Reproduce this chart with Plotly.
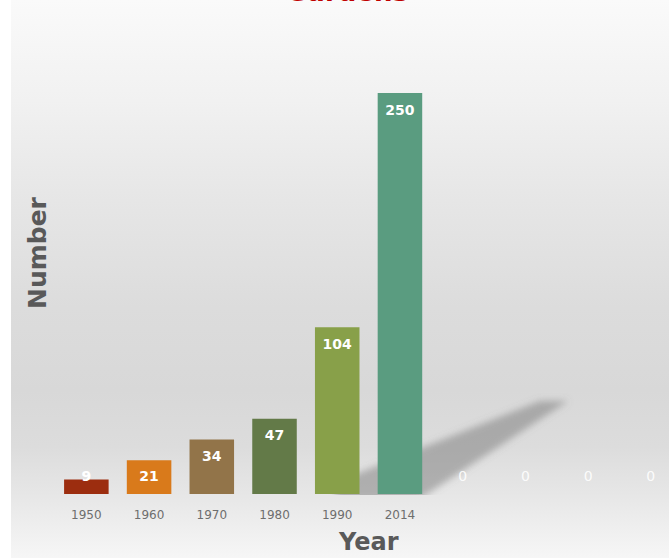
import base64
import plotly.graph_objects as go

# Garden counts by year (last four slots are empty categories)
years = ["1950", "1960", "1970", "1980", "1990", "2014", "", "", "", ""]
counts = [9, 21, 34, 47, 104, 250, 0, 0, 0, 0]
bar_colors = ["#9c2d0f", "#d97a1b", "#927449", "#637a48", "#88a049", "#5a9c80",
              "#5a9c80", "#5a9c80", "#5a9c80", "#5a9c80"]

W_PX, H_PX = 669, 558
M_L, M_R, M_T, M_B = 55, 0, 53, 64
PW = W_PX - M_L - M_R
PH = H_PX - M_T - M_B
Y_MAX = 275
X_RANGE = [-0.5, 9.29]


def px_to_paper(px, py):
    return (px - M_L) / PW, (H_PX - M_B - py) / PH


# Panel background: vertical grey gradient plus a soft floor shadow
svg = f"""<svg xmlns='http://www.w3.org/2000/svg' width='{W_PX}' height='{H_PX}'
 viewBox='0 0 {W_PX} {H_PX}' preserveAspectRatio='none'>
<defs>
<linearGradient id='g' x1='0' y1='0' x2='0' y2='1'>
<stop offset='0' stop-color='#fafafa'/>
<stop offset='0.18' stop-color='#f1f1f1'/>
<stop offset='0.36' stop-color='#e6e6e6'/>
<stop offset='0.55' stop-color='#dcdcdc'/>
<stop offset='0.70' stop-color='#d8d8d8'/>
<stop offset='0.80' stop-color='#dcdcdc'/>
<stop offset='0.89' stop-color='#e7e7e7'/>
<stop offset='1' stop-color='#f6f6f6'/>
</linearGradient>
<filter id='b' x='-20%' y='-20%' width='140%' height='140%'>
<feGaussianBlur stdDeviation='3.5'/>
</filter>
<clipPath id='c'><rect x='0' y='0' width='{W_PX}' height='495'/></clipPath>
</defs>
<rect x='0' y='0' width='{W_PX}' height='{H_PX}' fill='#ffffff'/>
<rect x='11' y='0' width='{W_PX - 11}' height='{H_PX}' fill='url(#g)'/>
<g clip-path='url(#c)'>
<polygon points='336,482 540,401 568,401 418,500 336,500' fill='#737373'
 fill-opacity='0.48' filter='url(#b)'/>
</g>
</svg>"""
src = "data:image/svg+xml;base64," + base64.b64encode(svg.encode()).decode()

x_idx = list(range(len(years)))

fig = go.Figure()
fig.add_trace(go.Bar(
    x=x_idx, y=counts, width=0.71,
    marker=dict(color=bar_colors, line=dict(width=0)),
    hoverinfo="skip",
))

# value labels sit just inside the bar top, never lower than a floor level
label_y = [max(v - 11.2, 10.6) for v in counts]
nz = [i for i, v in enumerate(counts) if v > 0]
zz = [i for i, v in enumerate(counts) if v == 0]
fig.add_trace(go.Scatter(
    x=[x_idx[i] for i in nz], y=[label_y[i] for i in nz],
    text=[str(counts[i]) for i in nz], mode="text",
    textfont=dict(family="DejaVu Sans", size=14, color="#ffffff", weight="bold"),
    hoverinfo="skip",
))
fig.add_trace(go.Scatter(
    x=[x_idx[i] for i in zz], y=[label_y[i] for i in zz],
    text=[str(counts[i]) for i in zz], mode="text",
    textfont=dict(family="DejaVu Sans", size=14, color="rgba(255,255,255,0.9)"),
    hoverinfo="skip",
))

bx, by = px_to_paper(0, 0)
title_x, title_y = px_to_paper(347, 9.3)
ytitle_x, ytitle_y = px_to_paper(37, 253)
xtitle_x, xtitle_y = px_to_paper(368, 542)

fig.update_layout(
    width=W_PX, height=H_PX,
    margin=dict(l=M_L, r=M_R, t=M_T, b=M_B, pad=0),
    paper_bgcolor="#ffffff",
    plot_bgcolor="rgba(0,0,0,0)",
    showlegend=False,
    bargap=0.29,
    images=[dict(
        source=src, xref="paper", yref="paper",
        x=bx, y=by, sizex=W_PX / PW, sizey=H_PX / PH,
        xanchor="left", yanchor="top", sizing="stretch", layer="below",
    )],
    xaxis=dict(
        range=X_RANGE, tickmode="array", tickvals=x_idx, ticktext=years,
        showgrid=False, zeroline=False, showline=False, ticks="",
        tickfont=dict(family="DejaVu Sans", size=12, color="#6e6e6e"),
        ticklabelstandoff=12, fixedrange=True,
    ),
    yaxis=dict(
        range=[0, Y_MAX], showgrid=False, zeroline=False, showline=False,
        showticklabels=False, ticks="", fixedrange=True,
    ),
    annotations=[
        dict(text="<b>Gardens</b>", x=title_x, y=title_y, xref="paper", yref="paper",
             xanchor="center", yanchor="bottom", showarrow=False,
             font=dict(family="DejaVu Sans", size=26, color="#c00000")),
        dict(text="<b>Number</b>", x=ytitle_x, y=ytitle_y, xref="paper", yref="paper",
             xanchor="center", yanchor="middle", textangle=-90, showarrow=False,
             font=dict(family="DejaVu Sans", size=25, color="#595959")),
        dict(text="<b>Year</b>", x=xtitle_x, y=xtitle_y, xref="paper", yref="paper",
             xanchor="center", yanchor="middle", showarrow=False,
             font=dict(family="DejaVu Sans", size=24, color="#595959")),
    ],
)

fig.write_html("out.html")
